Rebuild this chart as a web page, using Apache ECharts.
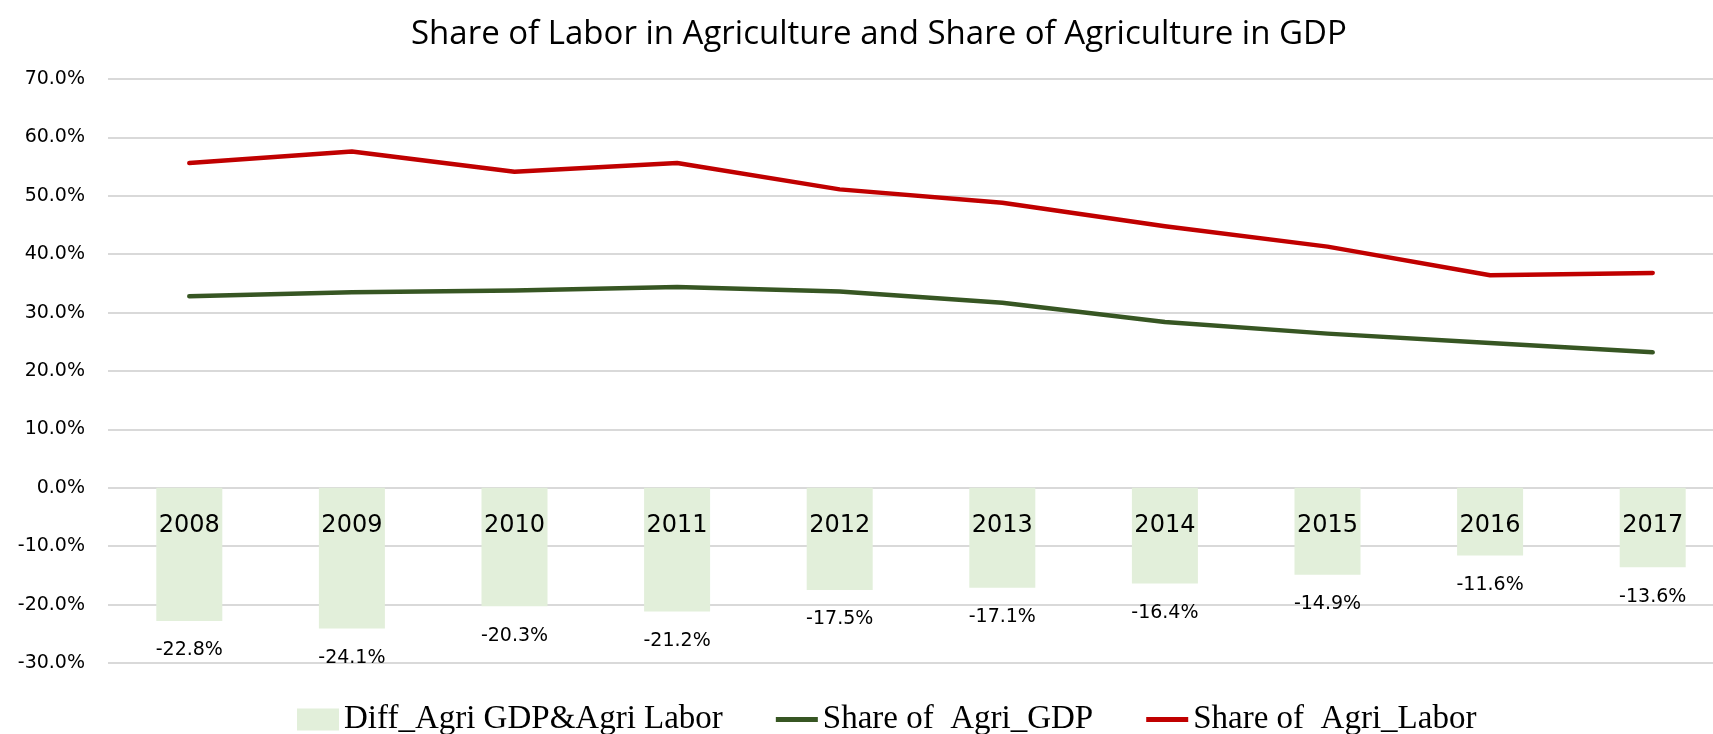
<!DOCTYPE html>
<html>
<head>
<meta charset="utf-8">
<script src="https://cdn.jsdelivr.net/npm/echarts@6/dist/echarts.min.js"></script>
<style>html,body{margin:0;padding:0;background:#fff;}#chart{width:1713px;height:734px;}</style>
</head>
<body>
<div id="chart"></div>
<script>
const years = ['2008','2009','2010','2011','2012','2013','2014','2015','2016','2017'];
const diffAgri = [-22.8, -24.1, -20.3, -21.2, -17.5, -17.1, -16.4, -14.9, -11.6, -13.6];
const shareGDP = [32.8, 33.5, 33.8, 34.4, 33.6, 31.7, 28.4, 26.4, 24.8, 23.2];
const shareLabor = [55.6, 57.6, 54.1, 55.6, 51.1, 48.8, 44.8, 41.3, 36.4, 36.8];
const seriesNames = ['Diff_Agri GDP&Agri Labor', 'Share of  Agri_GDP', 'Share of  Agri_Labor'];

const lineIcon = 'path://M0,0L0.01,0L0,0.01Z M0,8.5L42,8.5L42,13.5L0,13.5Z M42,22L41.99,22L42,21.99Z';

const chart = echarts.init(document.getElementById('chart'), null, {renderer: 'canvas'});
chart.setOption({
  animation: false,
  backgroundColor: '#ffffff',
  title: {
    text: 'Share of Labor in Agriculture and Share of Agriculture in GDP',
    left: 406, top: 13,
    textStyle: {fontFamily: 'Open Sans', fontSize: 33, fontWeight: 'normal', color: '#000'}
  },
  legend: {
    data: [
      {name: seriesNames[0], icon: 'rect'},
      {name: seriesNames[1], icon: lineIcon},
      {name: seriesNames[2], icon: lineIcon}
    ],
    left: 292, top: 698,
    itemWidth: 42, itemHeight: 22, itemGap: 53,
    textStyle: {fontFamily: 'Liberation Serif', fontSize: 33, color: '#000'}
  },
  grid: {left: 108, top: 79, width: 1626, height: 584, outerBoundsMode: 'none', containLabel: false},
  xAxis: {
    type: 'category',
    data: years,
    z: 10,
    offset: -176,
    axisLine: {show: false, onZero: false},
    axisTick: {show: false},
    axisLabel: {margin: 27, fontFamily: 'DejaVu Sans', fontSize: 24, color: '#000'},
    splitLine: {show: false}
  },
  yAxis: {
    type: 'value',
    min: -30, max: 70, interval: 10,
    axisLine: {show: false},
    axisTick: {show: false},
    axisLabel: {margin: 23, fontFamily: 'DejaVu Sans', fontSize: 19, color: '#000',
      formatter: v => v.toFixed(1) + '%'},
    splitLine: {show: true, lineStyle: {color: '#D9D9D9', width: 2}}
  },
  series: [
    {
      name: seriesNames[0], type: 'bar', data: diffAgri, barWidth: 66,
      itemStyle: {color: '#E2EFDA'},
      label: {show: true, position: 'bottom', distance: 20, fontFamily: 'DejaVu Sans', fontSize: 19, color: '#000',
        formatter: p => p.value.toFixed(1) + '%'}
    },
    {
      name: seriesNames[1], type: 'line', data: shareGDP, symbol: 'none', z: 5,
      lineStyle: {color: '#375623', width: 4.5, cap: 'round', join: 'round'},
      itemStyle: {color: '#375623'}
    },
    {
      name: seriesNames[2], type: 'line', data: shareLabor, symbol: 'none', z: 5,
      lineStyle: {color: '#C00000', width: 4.5, cap: 'round', join: 'round'},
      itemStyle: {color: '#C00000'}
    }
  ]
});
</script>
</body>
</html>
